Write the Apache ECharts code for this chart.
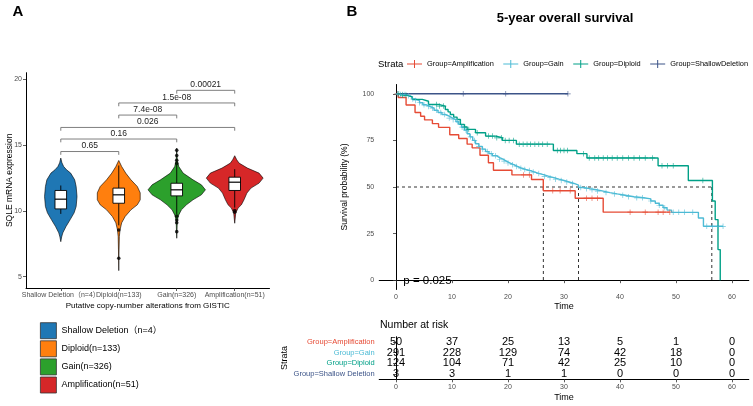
<!DOCTYPE html>
<html><head><meta charset="utf-8">
<script src="https://cdn.jsdelivr.net/npm/echarts@6/dist/echarts.min.js"></script>
<style>html,body{margin:0;padding:0;background:#fff}#c{width:753px;height:406px}</style>
</head><body><div id="c"></div>
<script>
// ---------- Panel A data ----------
const groupsA = ['Shallow Deletion（n=4）', 'Diploid(n=133)', 'Gain(n=326)', 'Amplification(n=51)'];
const colorsA = ['#1F77B4', '#FF7F0E', '#2CA02C', '#D62728'];
// violin profiles: [expression, half-width (category units)]
const violinShallow = [[14.01,0],[13.65,0.02],[13.37,0.05],[13.12,0.10],[12.87,0.17],[12.36,0.24],[11.85,0.265],[11.09,0.28],[10.33,0.265],[9.85,0.23],[9.32,0.16],[8.81,0.09],[8.33,0.035],[8.02,0.015],[7.66,0]];
const violinDiploid = [[13.83,0],[13.65,0.02],[13.37,0.05],[12.87,0.12],[12.36,0.21],[11.85,0.32],[11.37,0.37],[10.84,0.37],[10.46,0.32],[10.08,0.21],[9.57,0.11],[9.09,0.05],[8.55,0.022],[8.04,0.01],[7.03,0.005],[5.46,0]];
const violinGain = [[14.77,0],[14.26,0.005],[13.83,0.01],[13.37,0.035],[12.87,0.11],[12.36,0.28],[11.98,0.425],[11.6,0.495],[11.22,0.425],[10.84,0.28],[10.46,0.167],[10.08,0.08],[9.69,0.035],[9.31,0.01],[8.55,0.005],[7.92,0]];
const violinAmp = [[14.19,0],[13.88,0.035],[13.63,0.075],[13.25,0.22],[12.87,0.42],[12.49,0.49],[12.11,0.42],[11.73,0.28],[11.35,0.21],[10.84,0.16],[10.46,0.115],[10.21,0.057],[9.82,0.017],[9.06,0]];
const violins = [violinShallow, violinDiploid, violinGain, violinAmp];
// box stats: [group position, whiskerLow, q1, median, q3, whiskerHigh]
const boxStats = [[1,9.77,10.15,10.89,11.55,11.93],[2,8.9,10.58,11.22,11.73,13.45],[3,9.75,11.14,11.6,12.1,13.5],[4,10.25,11.55,12.18,12.56,13.17]];
const outliersA = [[2,8.55],[2,6.4],[3,13.6],[3,13.85],[3,14.2],[3,14.6],[3,9.6],[3,9.3],[3,9.1],[3,8.42],[4,10.02],[4,9.9]];
// brackets: [from, to, y]
const bracketPos = [[1,2,14.51],[1,3,15.46],[1,4,16.34],[2,3,17.28],[2,4,18.2],[3,4,19.16]];
const bracketLabels = ['0.65','0.16','0.026','7.4e-08','1.5e-08','0.00021'];
const yTicksA = [5,10,15,20];

// ---------- Panel B data ----------
const strata = ['Group=Amplification','Group=Gain','Group=Diploid','Group=ShallowDeletion'];
const colorsB = ['#E64B35','#4DBBD5','#00A087','#3C5488'];
const ampT = [0,0.4,1.8,3.4,4.4,5.1,6.5,7.6,9.6,11.2,12.7,13.6,15.0,16.5,17.4,20.7,24.2,26.3,32.0,37.0,48.9];
const ampS = [100,98,94,90,88,86,84,82,78,76,73,71,67,63,59,56.5,54,48,44,36.5,36.5];
const gainT = [0,0.8,1.7,2.3,2.9,3.5,4.2,4.8,5.4,6.1,6.8,7.5,8.2,8.8,9.5,10.1,10.7,11.2,11.7,12.2,12.7,13.2,13.7,14.2,14.8,15.4,16.0,16.6,17.2,17.9,18.5,19.1,19.7,20.3,21.0,21.7,22.4,23.2,24.0,24.8,25.6,26.5,27.3,28.2,29.1,30.0,30.9,31.8,32.6,33.5,34.6,35.8,37.0,38.2,39.5,40.9,42.5,44.2,45.5,46.3,47.0,47.7,48.4,49.2,54.0,54.9,58.4];
const gainS = [100,99.6,99.0,98.3,97.2,96.4,95.2,94.1,93.2,92.3,91.2,90.0,88.9,88.0,87.0,86.1,85.0,83.6,82.1,80.5,78.6,76.9,75.0,73.2,71.8,70.3,69.0,67.9,66.8,65.8,64.9,63.9,62.9,62.0,61.0,60.1,59.4,58.8,58.0,57.2,56.5,55.7,55.0,54.2,53.5,52.7,51.9,51.0,49.7,49.1,48.5,47.8,47.0,46.3,45.6,44.8,44.2,43.6,42.5,41.3,40.2,38.9,37.6,36.4,33.4,28.9,28.9];
const dipT = [0,0.8,2.0,2.9,4.7,5.8,7.6,8.8,9.3,9.7,10.3,10.9,11.5,12.2,12.7,14.2,16.0,17.8,19.0,21.5,28.1,32.3,34.1,46.8,52.2,56.5,57.0,57.5,57.9];
const dipS = [100,99.2,98.4,97.0,96.0,94.3,93.4,91.6,90.3,88.9,87.5,86.2,83.6,82.2,80.9,79.1,77.3,76.4,75.0,73.0,69.6,67.9,65.6,61.4,53.5,42.5,32.5,16.4,0];
const shallowT = [0,30.7];
const shallowS = [100,100];
const censorAmp = [0.2,22.8,23.8,28,29.3,31.1,34,35,36,41.8,44.5,46.8,47.7,48.9];
const censorGain = [0.3,0.8,1.2,1.6,2.2,3.0,3.5,4.2,5.0,5.8,6.5,7.2,8.0,8.7,9.5,10.2,11.0,11.8,12.5,13.3,14.0,14.8,15.5,16.3,17.0,17.8,18.5,19.3,20.0,20.8,21.5,22.3,23.0,23.8,24.5,25.5,26.5,27.5,28.5,29.5,30.5,31.5,33,34,35,36,37.5,39,40.5,41.5,43,44,45.5,47,48,49.5,50.5,51.5,53,55.5,56.5,57.5,58.4];
const censorDip = [0.5,1.2,1.8,7.2,7.8,8.5,12.3,13,14.5,16.5,17.2,18,18.8,19.5,20.2,21,22,22.7,23.4,24,24.8,25.5,26.2,27,28.8,29.4,30,30.6,33.5,34.5,35.5,36.2,37,37.8,38.6,39.5,40.5,41.5,42.5,43.5,44.5,45.8,47.5,48.5,49.5,54.8];
const censorShallow = [12.0,19.6,30.7];
const medians = [26.3,32.6,56.4];
const pValue = 'p = 0.025';
const xTicksB = [0,10,20,30,40,50,60];
const yTicksB = [0,25,50,75,100];
// risk table
const riskRows = ['Group=Amplification','Group=Gain','Group=Diploid','Group=Shallow Deletion'];
const riskTimes = [0,10,20,30,40,50,60];
const riskAmp = [50,37,25,13,5,1,0];
const riskGain = [291,228,129,74,42,18,0];
const riskDip = [124,104,71,42,25,10,0];
const riskShallow = [3,3,1,1,0,0,0];

// ---------- build ----------
const FONT = 'Liberation Sans, Arial, Noto Sans CJK SC, sans-serif';
const GRAY = '#4d4d4d';
const Y_MIN_A = 4.14, Y_MAX_A = 20.5;
const chart = echarts.init(document.getElementById('c'), null, {renderer:'canvas'});

function zip(t, s){ return t.map((v,i)=>[v, s[i]]); }
function stepAt(t, s, x){ let k=0; for (let i=0;i<t.length;i++){ if (t[i] <= x) k=i; } return s[k]; }
function censorData(times, t, s){ return times.map(x=>[x, stepAt(t, s, x)]); }

const series = [];
violins.forEach((prof, gi)=>{
  series.push({
    type:'custom', name: groupsA[gi], xAxisIndex:0, yAxisIndex:0,
    itemStyle:{color: colorsA[gi]},
    data:[[gi+1, prof[0][0]]],
    encode:{x:0,y:1},
    renderItem(params, api){
      const c = gi+1, pts=[];
      for (const [v,hw] of prof) pts.push(api.coord([c+hw, v]));
      for (let i=prof.length-1;i>=0;i--) pts.push(api.coord([c-prof[i][1], prof[i][0]]));
      return {type:'polygon', shape:{points:pts}, style:{fill: colorsA[gi], stroke:'#000', lineWidth:0.6}};
    }
  });
});
series.push({
  type:'custom', xAxisIndex:0, yAxisIndex:0, data: boxStats, encode:{x:0,y:3},
  renderItem(params, api){
    const c=api.value(0), wl=api.value(1), q1=api.value(2), md=api.value(3), q3=api.value(4), wh=api.value(5);
    const hw=0.1;
    const a=api.coord([c,wl]), b=api.coord([c,q1]), d=api.coord([c,q3]), e=api.coord([c,wh]);
    const tl=api.coord([c-hw,q3]), br=api.coord([c+hw,q1]);
    const ml=api.coord([c-hw,md]), mr=api.coord([c+hw,md]);
    const st={stroke:'#000', lineWidth:0.9};
    return {type:'group', children:[
      {type:'line', shape:{x1:a[0],y1:a[1],x2:b[0],y2:b[1]}, style:st},
      {type:'line', shape:{x1:d[0],y1:d[1],x2:e[0],y2:e[1]}, style:st},
      {type:'rect', shape:{x:tl[0], y:tl[1], width:br[0]-tl[0], height:br[1]-tl[1]}, style:{fill:'#fff', stroke:'#000', lineWidth:0.9}},
      {type:'line', shape:{x1:ml[0],y1:ml[1],x2:mr[0],y2:mr[1]}, style:{stroke:'#000', lineWidth:1.2}}
    ]};
  }
});
series.push({type:'scatter', xAxisIndex:0, yAxisIndex:0, data: outliersA, symbolSize:3.6, itemStyle:{color:'#000'}});
series.push({
  type:'custom', xAxisIndex:0, yAxisIndex:0, data: bracketPos, encode:{x:0,y:2},
  renderItem(params, api){
    const x1=api.value(0), x2=api.value(1), y=api.value(2), tick=0.25;
    const p1=api.coord([x1,y-tick]), p2=api.coord([x1,y]), p3=api.coord([x2,y]), p4=api.coord([x2,y-tick]);
    return {type:'group', children:[
      {type:'polyline', shape:{points:[p1,p2,p3,p4]}, style:{stroke:'#707070', lineWidth:0.9, fill:null}},
      {type:'text', x:(p2[0]+p3[0])/2, y:p2[1]-1.5, style:{text: bracketLabels[params.dataIndex], fontSize:8.5, fontFamily:FONT, fill:'#222', align:'center', verticalAlign:'bottom'}}
    ]};
  }
});
// category tick labels for panel A (drawn at axis bottom through the scale)
series.push({
  type:'custom', xAxisIndex:0, yAxisIndex:0, data: groupsA.map((g,i)=>[i+1, Y_MIN_A]), encode:{x:0,y:1}, silent:true,
  renderItem(params, api){
    const p = api.coord([api.value(0), Y_MIN_A]);
    return {type:'text', x:p[0], y:p[1]+7, style:{text: groupsA[params.dataIndex], fontSize:7, fontFamily:FONT, fill:GRAY, align:'center', verticalAlign:'middle'}};
  }
});
const maxMed = Math.max(...medians);
const dash = {color:'#000', width:0.8, type:[3,3]};
series.push({type:'line', xAxisIndex:1, yAxisIndex:1, data:[[0,50],[maxMed,50]], symbol:'none', lineStyle:dash, silent:true, z:1});
medians.forEach(m=>series.push({type:'line', xAxisIndex:1, yAxisIndex:1, data:[[m,50],[m,0]], symbol:'none', lineStyle:dash, silent:true, z:1}));
const curves = [[ampT,ampS],[gainT,gainS],[dipT,dipS],[shallowT,shallowS]];
const censors = [censorAmp, censorGain, censorDip, censorShallow];
const CROSS = 'path://M0,4.4h10v1.2h-10z M4.4,0h1.2v10h-1.2z';
const LEGCROSS = 'path://M0,3.5h15v1h-15z M7,0h1v8h-1z';
curves.forEach(([t,s],i)=>{
  series.push({type:'line', name: strata[i], xAxisIndex:1, yAxisIndex:1, step:'end', data: zip(t,s), symbol:'none', showSymbol:false,
    lineStyle:{color: colorsB[i], width:1.4}, itemStyle:{color: colorsB[i]}, z:3});
  series.push({type:'scatter', xAxisIndex:1, yAxisIndex:1, data: censorData(censors[i], t, s), symbol: CROSS, symbolSize:5.5,
    itemStyle:{color: colorsB[i], opacity:0.85}, z:4});
});
const riskSets = [riskAmp, riskGain, riskDip, riskShallow];
const riskData = [];
riskSets.forEach((arr, r)=>arr.forEach((n, k)=>riskData.push([riskTimes[k], r, n])));
series.push({
  type:'custom', xAxisIndex:2, yAxisIndex:2, data: riskData, encode:{x:0,y:1},
  renderItem(params, api){
    const p = api.coord([api.value(0), api.value(1)]);
    return {type:'text', x:p[0], y:p[1], style:{text:String(api.value(2)), fontSize:11, fontFamily:FONT, fill:'#000', align:'center', verticalAlign:'middle'}};
  }
});

const axisLine = {show:true, lineStyle:{color:'#000', width:1}};
const tick = {show:true, length:3, lineStyle:{color:'#333', width:0.8}};

const option = {
  animation:false,
  backgroundColor:'#fff',
  textStyle:{fontFamily:FONT},
  grid:[
    {left:26, top:72.7, width:243.5, height:215.3},
    {left:379.2, top:84.5, width:369.6, height:205},
    {left:379.2, top:336.7, width:369.6, height:42.6}
  ],
  xAxis:[
    {gridIndex:0, type:'value', min:0.4, max:4.6, splitLine:{show:false}, axisLine, axisTick:{...tick, customValues:[1,2,3,4]},
     axisLabel:{show:false},
     name:'Putative copy-number alterations from GISTIC', nameLocation:'middle', nameGap:13.5, nameMoveOverlap:false, nameTextStyle:{fontSize:8, color:'#000', fontFamily:FONT}},
    {gridIndex:1, type:'value', min:-3, max:63, splitLine:{show:false}, axisLine, axisTick:{...tick, customValues:xTicksB},
     axisLabel:{customValues:xTicksB, fontSize:7, color:GRAY, margin:4},
     name:'Time', nameLocation:'middle', nameGap:12.5, nameMoveOverlap:false, nameTextStyle:{fontSize:9, color:'#000'}},
    {gridIndex:2, type:'value', min:-3, max:63, splitLine:{show:false}, axisLine, axisTick:{...tick, customValues:riskTimes},
     axisLabel:{customValues:riskTimes, fontSize:7, color:GRAY, margin:4},
     name:'Time', nameLocation:'middle', nameGap:13.5, nameMoveOverlap:false, nameTextStyle:{fontSize:9, color:'#000'}}
  ],
  yAxis:[
    {gridIndex:0, type:'value', min:Y_MIN_A, max:Y_MAX_A, splitLine:{show:false}, axisLine, axisTick:{...tick, customValues:yTicksA},
     axisLabel:{customValues:yTicksA, fontSize:7, color:GRAY, margin:4},
     name:'SQLE mRNA expression', nameLocation:'middle', nameGap:12.5, nameMoveOverlap:false, nameTextStyle:{fontSize:8.5, color:'#000'}},
    {gridIndex:1, type:'value', min:-5, max:105, splitLine:{show:false}, axisLine, axisTick:{...tick, customValues:yTicksB},
     axisLabel:{customValues:yTicksB, fontSize:7, color:GRAY, margin:5},
     name:'Survival probability (%)', nameLocation:'middle', nameGap:30, nameMoveOverlap:false, nameTextStyle:{fontSize:8.5, color:'#000'}},
    {gridIndex:2, type:'category', inverse:true, data: riskRows, splitLine:{show:false}, axisLine,
     axisTick:{...tick, alignWithLabel:true},
     axisLabel:{fontSize:7.5, margin:4.5, color:(v,i)=>colorsB[riskRows.indexOf(v)]},
     name:'Strata', nameLocation:'middle', nameGap:90, nameMoveOverlap:false, nameTextStyle:{fontSize:9, color:'#000'}}
  ],
  legend:[
    {data: groupsA, orient:'vertical', left:35, top:317.3, itemWidth:16, itemHeight:16, itemGap:1.3, icon:'rect',
     itemStyle:{borderColor:'#333', borderWidth:0.8}, textStyle:{fontSize:9, color:'#000', fontFamily:FONT}, selectedMode:false},
    {data: strata, orient:'horizontal', left:407, top:60, width:346, padding:0, itemWidth:15, itemHeight:8, itemGap:9.5, icon: LEGCROSS,
     textStyle:{fontSize:7.4, color:'#000', fontFamily:FONT}, selectedMode:false}
  ],
  graphic:[
    {type:'text', x:18, y:12, style:{text:'A', fontSize:15, fontWeight:'bold', fontFamily:FONT, fill:'#000', align:'center', verticalAlign:'middle'}},
    {type:'text', x:352, y:12, style:{text:'B', fontSize:15, fontWeight:'bold', fontFamily:FONT, fill:'#000', align:'center', verticalAlign:'middle'}},
    {type:'text', x:565, y:18, style:{text:'5-year overall survival', fontSize:13, fontWeight:'bold', fontFamily:FONT, fill:'#000', align:'center', verticalAlign:'middle'}},
    {type:'text', x:378, y:64, style:{text:'Strata', fontSize:9.5, fontFamily:FONT, fill:'#000', align:'left', verticalAlign:'middle'}},
    {type:'text', x:403.3, y:280.7, style:{text:pValue, fontSize:11.5, fontFamily:FONT, fill:'#000', align:'left', verticalAlign:'middle'}},
    {type:'text', x:380, y:325, style:{text:'Number at risk', fontSize:10.5, fontFamily:FONT, fill:'#000', align:'left', verticalAlign:'middle'}}
  ],
  series
};
chart.setOption(option);
</script></body></html>
